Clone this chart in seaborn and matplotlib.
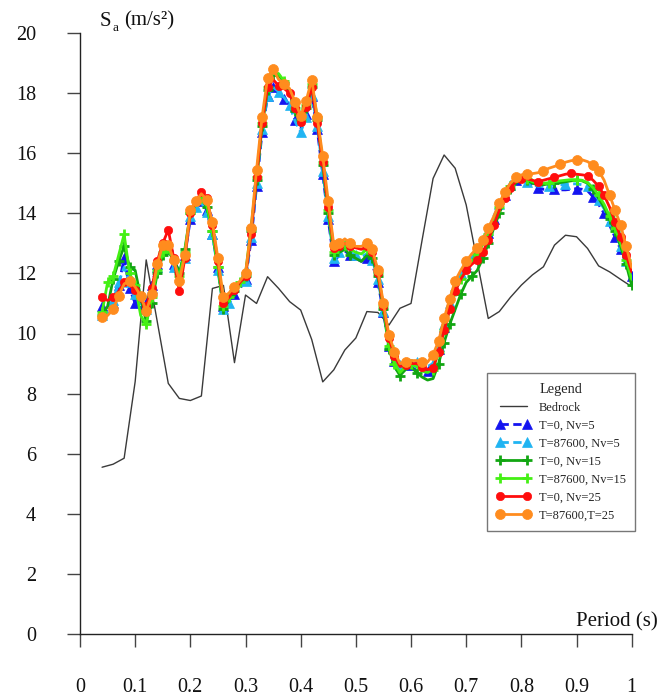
import numpy as np
import pandas as pd
import matplotlib
matplotlib.use("Agg")
import matplotlib.pyplot as plt
from matplotlib.lines import Line2D
import seaborn as sns

# Period grid (s)
period = np.round(np.arange(0.04, 1.0001, 0.01), 2)
bedrock_period = np.round(np.arange(0.04, 1.0001, 0.02), 2)

# Spectral acceleration Sa (m/s^2)
bedrock = [5.55, 5.65, 5.85, 8.4, 12.45, 10.4, 8.34, 7.84, 7.77,
           7.92, 11.5, 11.6, 9.03, 11.28, 11.0, 11.89, 11.5, 11.06, 10.78,
           9.8, 8.39, 8.79, 9.45, 9.85, 10.73, 10.7, 10.28, 10.84, 11.0,
           13.1, 15.16, 15.94, 15.5, 14.28, 12.4, 10.5, 10.73, 11.2, 11.61,
           11.95, 12.22, 12.94, 13.27, 13.22, 12.83, 12.25, 12.05, 11.8, 11.56]

t0_nv5 = [10.9, 10.7, 11.0, 11.6, 12.5, 11.5, 11.0, 10.85, 11.0,
          11.6, 12.3, 12.8, 12.9, 12.3, 11.9, 12.6, 13.8, 14.2, 14.4,
          14.1, 13.3, 12.2, 10.9, 11.1, 11.3, 11.5, 11.8,
          13.1, 14.9, 16.7, 17.9, 18.2, 18.0, 17.8, 17.6, 17.1, 16.8,
          17.3, 17.9, 16.8, 15.3, 13.8, 12.4, 12.6, 12.75, 12.6, 12.5,
          12.4, 12.5, 12.3, 11.7, 10.7, 9.6, 9.1, 8.85, 8.9, 8.95,
          8.95, 8.85, 8.75, 8.9, 9.5, 10.2, 10.9, 11.5, 11.9, 12.2,
          12.5, 12.75, 13.0, 13.35, 13.8, 14.25, 14.6, 14.9, 15.1, 15.2,
          15.1, 14.95, 14.85, 14.8, 14.8, 14.8, 14.78, 14.78, 14.8, 14.82,
          14.8, 14.75, 14.55, 14.3, 14.0, 13.6, 13.2, 12.8, 12.3, 11.9]

t87600_nv5 = [10.6, 10.65, 11.1, 11.7, 12.2, 11.7, 11.3, 11.0, 10.8,
              11.5, 12.2, 12.7, 12.8, 12.2, 11.8, 12.5, 13.9, 14.2, 14.35,
              14.05, 13.3, 12.1, 10.8, 11.0, 11.3, 11.5, 11.75,
              13.2, 15.0, 16.8, 17.9, 18.2, 18.05, 17.85, 17.6, 17.05, 16.7,
              17.2, 17.95, 16.9, 15.4, 13.9, 12.5, 12.7, 12.85, 12.7, 12.6,
              12.55, 12.65, 12.45, 11.8, 10.75, 9.65, 9.15, 8.95, 9.05, 9.1,
              9.05, 8.95, 8.9, 9.0, 9.6, 10.3, 11.0, 11.6, 12.0, 12.3,
              12.55, 12.8, 13.1, 13.45, 13.9, 14.3, 14.65, 14.95, 15.1, 15.15,
              15.05, 14.95, 14.9, 14.9, 14.92, 14.95, 14.95, 14.97, 14.98, 14.98,
              14.95, 14.9, 14.7, 14.45, 14.15, 13.75, 13.35, 12.9, 12.4, 11.95]

t0_nv15 = [10.6, 10.9, 11.8, 12.4, 12.9, 12.2, 12.1, 11.2, 10.4,
           11.0, 12.0, 12.6, 12.7, 12.5, 12.0, 12.8, 14.0, 14.3, 14.5,
           14.2, 13.4, 12.2, 10.8, 11.1, 11.4, 11.65, 11.9,
           13.4, 15.1, 16.9, 18.1, 18.6, 18.6, 18.35, 18.0, 17.4, 17.0,
           17.5, 18.2, 17.1, 15.6, 14.0, 12.6, 12.7, 12.8, 12.6, 12.5,
           12.4, 12.6, 12.5, 11.9, 10.8, 9.5, 8.9, 8.6, 8.8, 8.9,
           8.7, 8.55, 8.45, 8.5, 9.0, 9.7, 10.3, 10.8, 11.3, 11.7,
           11.9, 12.1, 12.5, 13.0, 13.5, 14.0, 14.45, 14.8, 15.0, 15.15,
           15.1, 15.0, 14.95, 14.95, 14.98, 15.0, 15.02, 15.05, 15.08, 15.1,
           15.08, 15.0, 14.8, 14.5, 14.2, 13.8, 13.4, 12.9, 12.3, 11.6]

t87600_nv15 = [10.7, 11.7, 11.9, 12.6, 13.3, 12.0, 11.6, 10.6, 10.3,
               11.2, 12.1, 12.7, 12.8, 12.4, 11.9, 12.7, 14.0, 14.3, 14.5,
               14.25, 13.4, 12.2, 10.9, 11.2, 11.5, 11.7, 12.0,
               13.5, 15.2, 17.0, 18.2, 18.7, 18.65, 18.4, 18.1, 17.5, 17.1,
               17.6, 18.3, 17.2, 15.7, 14.1, 12.7, 12.85, 12.95, 12.8, 12.7,
               12.65, 12.8, 12.65, 12.0, 10.9, 9.6, 9.0, 8.7, 8.9, 9.0,
               8.9, 8.75, 8.7, 8.8, 9.4, 10.1, 10.8, 11.4, 11.8, 12.1,
               12.4, 12.65, 12.95, 13.3, 13.75, 14.2, 14.6, 14.9, 15.1, 15.2,
               15.15, 15.05, 15.0, 15.0, 15.02, 15.05, 15.08, 15.1, 15.12, 15.12,
               15.1, 15.02, 14.85, 14.6, 14.3, 13.9, 13.5, 13.0, 12.45, 11.8]

t0_nv25 = [11.2, 11.1, 11.2, 11.4, 11.7, 11.6, 11.45, 11.1, 10.9,
           11.5, 12.4, 13.0, 13.45, 12.5, 11.4, 12.5, 14.0, 14.4, 14.7,
           14.5, 13.6, 12.4, 11.0, 11.2, 11.45, 11.7, 11.9,
           13.3, 15.2, 17.0, 18.2, 18.45, 18.25, 18.15, 18.0, 17.5, 17.05,
           17.55, 18.2, 17.0, 15.7, 14.2, 12.85, 12.9, 13.0, 12.9, 12.85,
           12.8, 12.9, 12.7, 12.0, 10.9, 9.85, 9.25, 8.9, 8.95, 9.0,
           9.0, 8.9, 8.8, 8.85, 9.4, 10.1, 10.8, 11.4, 11.8, 12.1,
           12.3, 12.45, 12.7, 13.1, 13.6, 14.1, 14.5, 14.85, 15.05, 15.15,
           15.15, 15.1, 15.05, 15.1, 15.15, 15.2, 15.25, 15.3, 15.33, 15.3,
           15.28, 15.25, 15.1, 14.9, 14.6, 14.2, 13.7, 13.2, 12.6, 12.05]

t87600_t25 = [10.55, 10.6, 10.8, 11.25, 11.65, 11.75, 11.55, 11.25, 10.75,
              11.3, 12.3, 12.95, 12.95, 12.45, 11.75, 12.6, 14.1, 14.4, 14.65,
              14.45, 13.7, 12.5, 11.2, 11.35, 11.55, 11.75, 12.0,
              13.5, 15.45, 17.2, 18.5, 18.8, 18.45, 18.3, 18.15, 17.7, 17.25,
              17.75, 18.45, 17.2, 15.9, 14.4, 12.95, 13.0, 13.15, 13.0, 12.9,
              12.9, 13.0, 12.8, 12.1, 11.0, 9.95, 9.4, 9.0, 9.05, 9.1,
              9.1, 9.05, 9.05, 9.3, 9.75, 10.5, 11.15, 11.75, 12.1, 12.4,
              12.65, 12.85, 13.1, 13.5, 13.9, 14.35, 14.7, 15.0, 15.2, 15.28,
              15.3, 15.32, 15.35, 15.42, 15.5, 15.56, 15.63, 15.7, 15.75, 15.78,
              15.78, 15.72, 15.6, 15.42, 15.1, 14.6, 14.1, 13.6, 12.9, 12.2]

labels = ["Bedrock", "T=0, Nv=5", "T=87600, Nv=5", "T=0, Nv=15",
          "T=87600, Nv=15", "T=0, Nv=25", "T=87600,T=25"]
x_ticks = [0, 0.1, 0.2, 0.3, 0.4, 0.5, 0.6, 0.7, 0.8, 0.9, 1.0]
x_tick_labels = ["0", "0.1", "0.2", "0.3", "0.4", "0.5", "0.6", "0.7", "0.8", "0.9", "1"]
y_ticks = [0, 2, 4, 6, 8, 10, 12, 14, 16, 18, 20]

sns.set_style("ticks")
plt.rcParams["font.family"] = ["Liberation Serif", "DejaVu Serif"]

fig = plt.figure(figsize=(6.6, 6.96), dpi=100)
ax = fig.add_axes([80 / 660, 1 - 634 / 696, 551.7 / 660, 601 / 696])

# line styles for each series
styles = [
    dict(color="#3a3a3a", lw=1.0, ls="-", marker=None, ms=0, mew=0, every=None),
    dict(color="#1414f0", lw=2.0, ls=(0, (3, 1.6)), marker="^", ms=6.5, mew=0.5, every=0.026),
    dict(color="#20b4f2", lw=2.0, ls=(0, (3, 1.6)), marker="^", ms=6.5, mew=0.5, every=0.026),
    dict(color="#12a612", lw=2.0, ls="-", marker="+", ms=6.5, mew=2.0, every=0.03),
    dict(color="#44f014", lw=2.0, ls="-", marker="+", ms=6.5, mew=2.0, every=0.03),
    dict(color="#ff0d0d", lw=2.0, ls="-", marker="o", ms=6.0, mew=0.5, every=0.02),
    dict(color="#ff8c1e", lw=2.0, ls="-", marker="o", ms=7.2, mew=0.5, every=0.02),
]

series = [bedrock, t0_nv5, t87600_nv5, t0_nv15, t87600_nv15, t0_nv25, t87600_t25]
xs = [bedrock_period] + [period] * 6

for xv, yv, st in zip(xs, series, styles):
    df = pd.DataFrame({"period": xv, "sa": yv})
    kws = dict(color=st["color"], linewidth=st["lw"], linestyle=st["ls"])
    if st["marker"]:
        kws.update(marker=st["marker"], markersize=st["ms"], markeredgewidth=st["mew"],
                   markeredgecolor=st["color"], markerfacecolor=st["color"],
                   markevery=st["every"])
    sns.lineplot(data=df, x="period", y="sa", ax=ax, legend=False,
                 estimator=None, sort=False, **kws)

ax.set_xlim(0, 1)
ax.set_ylim(0, 20)
ax.set_xticks(x_ticks)
ax.set_xticklabels(x_tick_labels)
ax.set_yticks(y_ticks)
ax.set_yticklabels([str(v) for v in y_ticks])
ax.set_xlabel("")
ax.set_ylabel("")
for side in ("top", "right"):
    ax.spines[side].set_visible(False)
for side in ("left", "bottom"):
    ax.spines[side].set_color("#222222")
    ax.spines[side].set_linewidth(1.0)
ax.tick_params(axis="both", which="major", direction="out", length=9.5, width=1.0,
               color="#444444", labelsize=14.5, pad=22, labelcolor="#111111",
               bottom=True, left=True, top=False, right=False)

# axis titles
ax.text(0.036, 1.012, "S", transform=ax.transAxes,
        fontsize=15, ha="left", va="baseline", color="#111111")
ax.text(0.059, 1.003, "a", transform=ax.transAxes,
        fontsize=9.5, ha="left", va="baseline", color="#111111")
ax.text(0.080, 1.012, "(m/s²)", transform=ax.transAxes,
        fontsize=15, ha="left", va="baseline", color="#111111")
ax.text(1.048, 0.012, "Period (s)", transform=ax.transAxes,
        fontsize=15, ha="right", va="baseline", color="#111111", clip_on=False)

handles = []
for st in styles:
    if st["marker"]:
        h = Line2D([], [], color=st["color"], lw=st["lw"], ls=st["ls"],
                   marker=st["marker"], markersize=st["ms"],
                   markeredgewidth=st["mew"], markeredgecolor=st["color"],
                   markerfacecolor=st["color"])
    else:
        h = Line2D([], [], color=st["color"], lw=st["lw"], ls=st["ls"])
    handles.append(h)

leg = ax.legend(handles=handles, labels=labels, title="Legend",
                loc="upper left", bbox_to_anchor=(0.738, 0.434),
                fontsize=9.0, title_fontsize=10.4, numpoints=2,
                handlelength=2.7, handletextpad=0.7, labelspacing=0.48,
                borderpad=0.75, frameon=True, fancybox=False, borderaxespad=0)
leg.get_frame().set_edgecolor("#555555")
leg.get_frame().set_linewidth(1.0)

fig.savefig("out.png", dpi=100)
